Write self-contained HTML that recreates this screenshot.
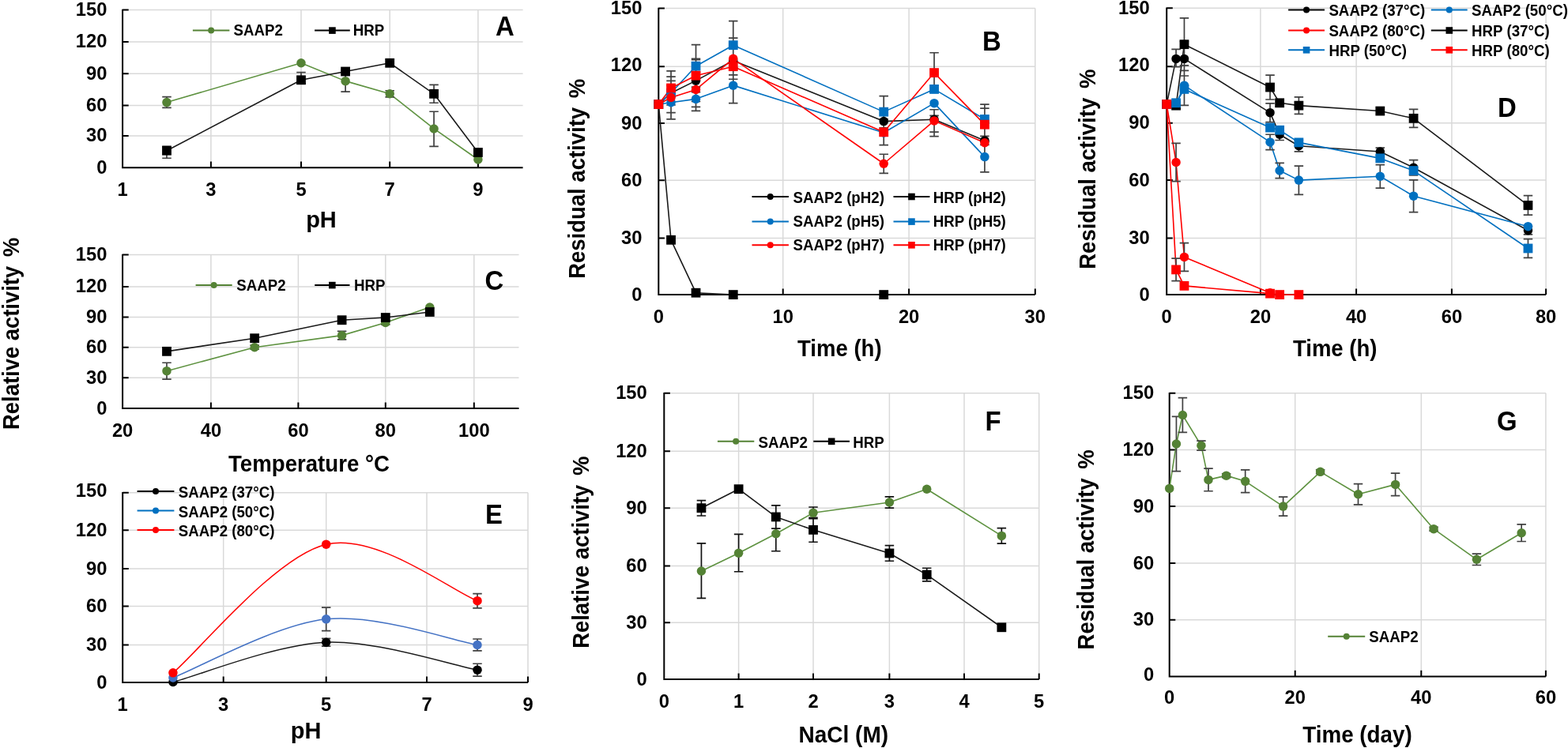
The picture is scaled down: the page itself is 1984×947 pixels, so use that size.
<!DOCTYPE html>
<html><head><meta charset="utf-8"><title>Figure</title>
<style>
html,body{margin:0;padding:0;background:#fff;overflow:hidden;}
svg{display:block;}
text{font-family:'Liberation Sans', Arial, sans-serif;font-weight:bold;fill:#000;}
</style></head>
<body>
<svg width="1984" height="947" viewBox="0 0 1984 947">
<rect width="1984" height="947" fill="#fff"/>
<path d="M155.1 171.9H661.6 M155.1 133.6H661.6 M155.1 93.2H661.6 M155.1 52.9H661.6 M155.1 12.5H661.6 M266.9 212.2V12.5 M381 212.2V12.5 M493.2 212.2V12.5 M604.9 212.2V12.5" fill="none" stroke="#D9D9D9" stroke-width="1.5"/>
<path d="M155.1 11.7V212.2H661.6 M155.1 212.2H162.7 M155.1 171.9H162.7 M155.1 133.6H162.7 M155.1 93.2H162.7 M155.1 52.9H162.7 M155.1 12.5H162.7 M155.1 212.2V204.6 M266.9 212.2V204.6 M381 212.2V204.6 M493.2 212.2V204.6 M604.9 212.2V204.6" fill="none" stroke="#000" stroke-width="2.0"/>
<text transform="translate(135.4 219.7) scale(0.97 1)" font-size="24.5" text-anchor="end">0</text>
<text transform="translate(135.4 179.4) scale(0.97 1)" font-size="24.5" text-anchor="end">30</text>
<text transform="translate(135.4 141.1) scale(0.97 1)" font-size="24.5" text-anchor="end">60</text>
<text transform="translate(135.4 100.7) scale(0.97 1)" font-size="24.5" text-anchor="end">90</text>
<text transform="translate(135.4 60.4) scale(0.97 1)" font-size="24.5" text-anchor="end">120</text>
<text transform="translate(135.4 20) scale(0.97 1)" font-size="24.5" text-anchor="end">150</text>
<text transform="translate(155.1 248) scale(0.97 1)" font-size="24.5" text-anchor="middle">1</text>
<text transform="translate(266.9 248) scale(0.97 1)" font-size="24.5" text-anchor="middle">3</text>
<text transform="translate(381 248) scale(0.97 1)" font-size="24.5" text-anchor="middle">5</text>
<text transform="translate(493.2 248) scale(0.97 1)" font-size="24.5" text-anchor="middle">7</text>
<text transform="translate(604.9 248) scale(0.97 1)" font-size="24.5" text-anchor="middle">9</text>
<path d="M211 129.56 L381 79.77 L437.1 102.63 L493.2 118.79 L549.05 162.96 L604.9 201.99" fill="none" stroke="#5E9240" stroke-width="1.6" stroke-linejoin="round"/>
<path d="M211 190.71 L381 101.28 L437.1 90.51 L493.2 79.77 L549.05 118.79 L604.9 192.99" fill="none" stroke="#1A1A1A" stroke-width="1.6" stroke-linejoin="round"/>
<path d="M211 122.56V136.41M205.25 122.56H216.75M205.25 136.41H216.75M437.1 89.17V116.09M431.35 89.17H442.85M431.35 116.09H442.85M493.2 114.75V122.83M487.45 114.75H498.95M487.45 122.83H498.95M549.05 141.26V185.33M543.3 141.26H554.8M543.3 185.33H554.8M211 185.33V200.24M205.25 185.33H216.75M205.25 200.24H216.75M381 91.59V105.32M375.25 91.59H386.75M375.25 105.32H386.75M549.05 107.34V130.23M543.3 107.34H554.8M543.3 130.23H554.8" fill="none" stroke="#404040" stroke-width="1.7"/>
<circle cx="211" cy="129.56" r="5.75" fill="#548235"/>
<circle cx="381" cy="79.77" r="5.75" fill="#548235"/>
<circle cx="437.1" cy="102.63" r="5.75" fill="#548235"/>
<circle cx="493.2" cy="118.79" r="5.75" fill="#548235"/>
<circle cx="549.05" cy="162.96" r="5.75" fill="#548235"/>
<circle cx="604.9" cy="201.99" r="5.75" fill="#548235"/>
<rect x="205.1" y="184.81" width="11.8" height="11.8" fill="#000000"/>
<rect x="375.1" y="95.38" width="11.8" height="11.8" fill="#000000"/>
<rect x="431.2" y="84.61" width="11.8" height="11.8" fill="#000000"/>
<rect x="487.3" y="73.87" width="11.8" height="11.8" fill="#000000"/>
<rect x="543.15" y="112.89" width="11.8" height="11.8" fill="#000000"/>
<rect x="599" y="187.09" width="11.8" height="11.8" fill="#000000"/>
<path d="M243.9 38.6H290.4" stroke="#548235" stroke-width="2.0"/>
<circle cx="267.15" cy="38.6" r="4" fill="#548235"/>
<text transform="translate(295.5 45.4) scale(0.935 1)" font-size="20" text-anchor="start">SAAP2</text>
<path d="M398.1 38.6H442.8" stroke="#000000" stroke-width="2.0"/>
<rect x="416.15" y="34.3" width="8.6" height="8.6" fill="#000000"/>
<text transform="translate(446.7 45.4) scale(0.935 1)" font-size="20" text-anchor="start">HRP</text>
<text transform="translate(638.8 44.8) scale(0.94 1)" font-size="35" text-anchor="middle">A</text>
<text x="406.5" y="288" font-size="29" text-anchor="middle">pH</text>
<path d="M155.1 478.3H656.5 M155.1 439.7H656.5 M155.1 401.4H656.5 M155.1 362.9H656.5 M155.1 322.5H656.5 M266.9 517V322.5 M377.4 517V322.5 M487.8 517V322.5 M599.8 517V322.5" fill="none" stroke="#D9D9D9" stroke-width="1.5"/>
<path d="M155.1 321.7V517H656.5 M155.1 517H162.7 M155.1 478.3H162.7 M155.1 439.7H162.7 M155.1 401.4H162.7 M155.1 362.9H162.7 M155.1 322.5H162.7 M155.1 517V509.4 M266.9 517V509.4 M377.4 517V509.4 M487.8 517V509.4 M599.8 517V509.4" fill="none" stroke="#000" stroke-width="2.0"/>
<text transform="translate(135.4 524.5) scale(0.97 1)" font-size="24.5" text-anchor="end">0</text>
<text transform="translate(135.4 485.8) scale(0.97 1)" font-size="24.5" text-anchor="end">30</text>
<text transform="translate(135.4 447.2) scale(0.97 1)" font-size="24.5" text-anchor="end">60</text>
<text transform="translate(135.4 408.9) scale(0.97 1)" font-size="24.5" text-anchor="end">90</text>
<text transform="translate(135.4 370.4) scale(0.97 1)" font-size="24.5" text-anchor="end">120</text>
<text transform="translate(135.4 330) scale(0.97 1)" font-size="24.5" text-anchor="end">150</text>
<text transform="translate(155.1 552.8) scale(0.97 1)" font-size="24.5" text-anchor="middle">20</text>
<text transform="translate(266.9 552.8) scale(0.97 1)" font-size="24.5" text-anchor="middle">40</text>
<text transform="translate(377.4 552.8) scale(0.97 1)" font-size="24.5" text-anchor="middle">60</text>
<text transform="translate(487.8 552.8) scale(0.97 1)" font-size="24.5" text-anchor="middle">80</text>
<text transform="translate(599.8 552.8) scale(0.97 1)" font-size="24.5" text-anchor="middle">100</text>
<path d="M211 469.68 L322.15 439.7 L432.6 424.64 L487.8 408.42 L543.8 388.95" fill="none" stroke="#5E9240" stroke-width="1.6" stroke-linejoin="round"/>
<path d="M211 444.85 L322.15 428.21 L432.6 405.23 L487.8 402.04 L543.8 394.98" fill="none" stroke="#1A1A1A" stroke-width="1.6" stroke-linejoin="round"/>
<path d="M211 459.26V480.11M205.25 459.26H216.75M205.25 480.11H216.75M322.15 437.15V442.27M316.4 437.15H327.9M316.4 442.27H327.9M432.6 419.4V429.87M426.85 419.4H438.35M426.85 429.87H438.35M487.8 405.87V410.97M482.05 405.87H493.55M482.05 410.97H493.55" fill="none" stroke="#404040" stroke-width="1.7"/>
<circle cx="211" cy="469.68" r="5.75" fill="#548235"/>
<circle cx="322.15" cy="439.7" r="5.75" fill="#548235"/>
<circle cx="432.6" cy="424.64" r="5.75" fill="#548235"/>
<circle cx="487.8" cy="408.42" r="5.75" fill="#548235"/>
<circle cx="543.8" cy="388.95" r="5.75" fill="#548235"/>
<rect x="205.1" y="438.95" width="11.8" height="11.8" fill="#000000"/>
<rect x="316.25" y="422.31" width="11.8" height="11.8" fill="#000000"/>
<rect x="426.7" y="399.33" width="11.8" height="11.8" fill="#000000"/>
<rect x="481.9" y="396.14" width="11.8" height="11.8" fill="#000000"/>
<rect x="537.9" y="389.08" width="11.8" height="11.8" fill="#000000"/>
<path d="M247.6 361.1H293.7" stroke="#548235" stroke-width="2.0"/>
<circle cx="270.65" cy="361.1" r="4" fill="#548235"/>
<text transform="translate(299.3 367.5) scale(0.935 1)" font-size="20" text-anchor="start">SAAP2</text>
<path d="M398.2 361.1H442.5" stroke="#000000" stroke-width="2.0"/>
<rect x="416.05" y="356.8" width="8.6" height="8.6" fill="#000000"/>
<text transform="translate(448 367.5) scale(0.935 1)" font-size="20" text-anchor="start">HRP</text>
<text transform="translate(625.4 366.8) scale(0.94 1)" font-size="35" text-anchor="middle">C</text>
<text transform="translate(391 596.8) scale(0.953 1)" font-size="29" text-anchor="middle">Temperature °C</text>
<text font-size="29" text-anchor="middle" transform="translate(24.3 422.4) rotate(-90) scale(0.945 1)">Relative activity <tspan dx="4.3">%</tspan></text>
<path d="M155.2 816.5H668 M155.2 767.5H668 M155.2 720H668 M155.2 671.3H668 M155.2 623.8H668 M282.7 864V623.8 M412.7 864V623.8 M540 864V623.8 M668 864V623.8" fill="none" stroke="#D9D9D9" stroke-width="1.5"/>
<path d="M155.2 623V864H668 M155.2 864H162.8 M155.2 816.5H162.8 M155.2 767.5H162.8 M155.2 720H162.8 M155.2 671.3H162.8 M155.2 623.8H162.8 M155.2 864V856.4 M282.7 864V856.4 M412.7 864V856.4 M540 864V856.4 M668 864V856.4" fill="none" stroke="#000" stroke-width="2.0"/>
<text transform="translate(135.4 871.5) scale(0.97 1)" font-size="24.5" text-anchor="end">0</text>
<text transform="translate(135.4 824) scale(0.97 1)" font-size="24.5" text-anchor="end">30</text>
<text transform="translate(135.4 775) scale(0.97 1)" font-size="24.5" text-anchor="end">60</text>
<text transform="translate(135.4 727.5) scale(0.97 1)" font-size="24.5" text-anchor="end">90</text>
<text transform="translate(135.4 678.8) scale(0.97 1)" font-size="24.5" text-anchor="end">120</text>
<text transform="translate(135.4 629.3) scale(0.97 1)" font-size="24.5" text-anchor="end">150</text>
<text transform="translate(155.2 899.5) scale(0.97 1)" font-size="24.5" text-anchor="middle">1</text>
<text transform="translate(282.7 899.5) scale(0.97 1)" font-size="24.5" text-anchor="middle">3</text>
<text transform="translate(412.7 899.5) scale(0.97 1)" font-size="24.5" text-anchor="middle">5</text>
<text transform="translate(540 899.5) scale(0.97 1)" font-size="24.5" text-anchor="middle">7</text>
<text transform="translate(668 899.5) scale(0.97 1)" font-size="24.5" text-anchor="middle">9</text>
<path d="M218.95 863.52 C251.24 855.14 348.52 815.79 412.7 813.23 C476.88 810.67 572.12 842.34 604 848.17" fill="none" stroke="#1A1A1A" stroke-width="1.5" stroke-linejoin="round"/>
<path d="M218.95 857.98 C251.24 845.62 348.52 790.75 412.7 783.83 C476.88 776.92 572.12 811.06 604 816.5" fill="none" stroke="#4472C4" stroke-width="1.5" stroke-linejoin="round"/>
<path d="M218.95 851.81 C251.24 824.7 348.52 704.34 412.7 689.16 C476.88 673.97 572.12 748.77 604 760.69" fill="none" stroke="#FF0000" stroke-width="1.5" stroke-linejoin="round"/>
<path d="M412.7 808.33V818.08M406.95 808.33H418.45M406.95 818.08H418.45M604 840.25V856.08M598.25 840.25H609.75M598.25 856.08H609.75M412.7 769.13V798.53M406.95 769.13H418.45M406.95 798.53H418.45M604 808.99V823.78M598.25 808.99H609.75M598.25 823.78H609.75M604 751.67V769.79M598.25 751.67H609.75M598.25 769.79H609.75" fill="none" stroke="#404040" stroke-width="1.7"/>
<circle cx="218.95" cy="863.52" r="5.75" fill="#000000"/>
<circle cx="412.7" cy="813.23" r="5.75" fill="#000000"/>
<circle cx="604" cy="848.17" r="5.75" fill="#000000"/>
<circle cx="218.95" cy="857.98" r="5.75" fill="#4472C4"/>
<circle cx="412.7" cy="783.83" r="5.75" fill="#4472C4"/>
<circle cx="604" cy="816.5" r="5.75" fill="#4472C4"/>
<circle cx="218.95" cy="851.81" r="5.75" fill="#FF0000"/>
<circle cx="412.7" cy="689.16" r="5.75" fill="#FF0000"/>
<circle cx="604" cy="760.69" r="5.75" fill="#FF0000"/>
<path d="M173.6 622.1H220.4" stroke="#000000" stroke-width="2.0"/>
<circle cx="197" cy="622.1" r="4" fill="#000000"/>
<text transform="translate(225.7 630.2) scale(0.935 1)" font-size="20" text-anchor="start">SAAP2 (37°C)</text>
<path d="M173.6 646.5H220.4" stroke="#0070C0" stroke-width="2.0"/>
<circle cx="197" cy="646.5" r="4" fill="#0070C0"/>
<text transform="translate(225.7 654.8) scale(0.935 1)" font-size="20" text-anchor="start">SAAP2 (50°C)</text>
<path d="M173.6 671H220.4" stroke="#FF0000" stroke-width="2.0"/>
<circle cx="197" cy="671" r="4" fill="#FF0000"/>
<text transform="translate(225.7 679.4) scale(0.935 1)" font-size="20" text-anchor="start">SAAP2 (80°C)</text>
<text transform="translate(624.9 663.2) scale(0.94 1)" font-size="35" text-anchor="middle">E</text>
<text x="387.2" y="934.5" font-size="29" text-anchor="middle">pH</text>
<path d="M833.3 301.4H1309.8 M833.3 228.2H1309.8 M833.3 156H1309.8 M833.3 84.2H1309.8 M833.3 10.5H1309.8 M990.7 373.1V10.5 M1150.1 373.1V10.5 M1309.8 373.1V10.5" fill="none" stroke="#D9D9D9" stroke-width="1.5"/>
<path d="M833.3 9.7V373.1H1309.8 M833.3 373.1H840.9 M833.3 301.4H840.9 M833.3 228.2H840.9 M833.3 156H840.9 M833.3 84.2H840.9 M833.3 10.5H840.9 M833.3 373.1V365.5 M990.7 373.1V365.5 M1150.1 373.1V365.5 M1309.8 373.1V365.5" fill="none" stroke="#000" stroke-width="2.0"/>
<text transform="translate(812.4 380.6) scale(0.97 1)" font-size="24.5" text-anchor="end">0</text>
<text transform="translate(812.4 308.9) scale(0.97 1)" font-size="24.5" text-anchor="end">30</text>
<text transform="translate(812.4 235.7) scale(0.97 1)" font-size="24.5" text-anchor="end">60</text>
<text transform="translate(812.4 163.5) scale(0.97 1)" font-size="24.5" text-anchor="end">90</text>
<text transform="translate(812.4 89.9) scale(0.97 1)" font-size="24.5" text-anchor="end">120</text>
<text transform="translate(812.4 18) scale(0.97 1)" font-size="24.5" text-anchor="end">150</text>
<text transform="translate(833.3 409.1) scale(0.97 1)" font-size="24.5" text-anchor="middle">0</text>
<text transform="translate(990.7 409.1) scale(0.97 1)" font-size="24.5" text-anchor="middle">10</text>
<text transform="translate(1150.1 409.1) scale(0.97 1)" font-size="24.5" text-anchor="middle">20</text>
<text transform="translate(1309.8 409.1) scale(0.97 1)" font-size="24.5" text-anchor="middle">30</text>
<path d="M833.3 132.07 L849.04 117.71 L880.52 102.15 L927.74 76.83 L1118.22 153.61 L1182.04 151.21 L1245.92 177.9" fill="none" stroke="#1A1A1A" stroke-width="1.6" stroke-linejoin="round"/>
<path d="M833.3 132.07 L849.04 303.79 L880.52 370.71 L927.74 373.1 L1118.22 373.1" fill="none" stroke="#1A1A1A" stroke-width="1.6" stroke-linejoin="round"/>
<path d="M833.3 132.07 L849.04 129.67 L880.52 125.37 L927.74 108.13 L1118.22 168.03 L1182.04 130.63 L1245.92 198.6" fill="none" stroke="#0070C0" stroke-width="1.6" stroke-linejoin="round"/>
<path d="M833.3 132.07 L849.04 117.71 L880.52 83.71 L927.74 57.18 L1118.22 141.64 L1182.04 112.92 L1245.92 150.97" fill="none" stroke="#0070C0" stroke-width="1.6" stroke-linejoin="round"/>
<path d="M833.3 132.07 L849.04 123.45 L880.52 113.4 L927.74 74.37 L1118.22 207.26 L1182.04 152.89 L1245.92 180.79" fill="none" stroke="#FF0000" stroke-width="1.6" stroke-linejoin="round"/>
<path d="M833.3 132.07 L849.04 111.48 L880.52 95.69 L927.74 84.2 L1118.22 167.31 L1182.04 92.1 L1245.92 157.68" fill="none" stroke="#FF0000" stroke-width="1.6" stroke-linejoin="round"/>
<path d="M849.04 102.39V133.02M843.29 102.39H854.79M843.29 133.02H854.79M880.52 75.6V128.48M874.77 75.6H886.27M874.77 128.48H886.27M927.74 58.41V94.97M921.99 58.41H933.49M921.99 94.97H933.49M1182.04 146.43V172.61M1176.29 146.43H1187.79M1176.29 172.61H1187.79M1245.92 172.37V183.44M1240.17 172.37H1251.67M1240.17 183.44H1251.67M849.04 108.37V150.97M843.29 108.37H854.79M843.29 150.97H854.79M880.52 110.29V140.44M874.77 110.29H886.27M874.77 140.44H886.27M927.74 85.64V130.63M921.99 85.64H933.49M921.99 130.63H933.49M1245.92 179.34V217.85M1240.17 179.34H1251.67M1240.17 217.85H1251.67M849.04 97.12V142.6M843.29 97.12H854.79M843.29 142.6H854.79M880.52 56.69V110.05M874.77 56.69H886.27M874.77 110.05H886.27M927.74 26.71V87.55M921.99 26.71H933.49M921.99 87.55H933.49M1118.22 121.54V161.78M1112.47 121.54H1123.97M1112.47 161.78H1123.97M1245.92 132.07V150.97M1240.17 132.07H1251.67M880.52 91.38V135.42M874.77 91.38H886.27M874.77 135.42H886.27M927.74 48.09V100.24M921.99 48.09H933.49M921.99 100.24H933.49M1118.22 195.23V219.3M1112.47 195.23H1123.97M1112.47 219.3H1123.97M1182.04 138.77V167.07M1176.29 138.77H1187.79M1176.29 167.07H1187.79M849.04 89.94V133.02M843.29 89.94H854.79M843.29 133.02H854.79M880.52 74.37V116.75M874.77 74.37H886.27M874.77 116.75H886.27M1118.22 150.97V183.68M1112.47 150.97H1123.97M1112.47 183.68H1123.97M1182.04 66.76V116.99M1176.29 66.76H1187.79M1176.29 116.99H1187.79M1245.92 137.09V178.38M1240.17 137.09H1251.67M1240.17 178.38H1251.67" fill="none" stroke="#404040" stroke-width="1.7"/>
<circle cx="833.3" cy="132.07" r="5.75" fill="#000000"/>
<circle cx="849.04" cy="117.71" r="5.75" fill="#000000"/>
<circle cx="880.52" cy="102.15" r="5.75" fill="#000000"/>
<circle cx="927.74" cy="76.83" r="5.75" fill="#000000"/>
<circle cx="1118.22" cy="153.61" r="5.75" fill="#000000"/>
<circle cx="1182.04" cy="151.21" r="5.75" fill="#000000"/>
<circle cx="1245.92" cy="177.9" r="5.75" fill="#000000"/>
<rect x="827.4" y="126.17" width="11.8" height="11.8" fill="#000000"/>
<rect x="843.14" y="297.89" width="11.8" height="11.8" fill="#000000"/>
<rect x="874.62" y="364.81" width="11.8" height="11.8" fill="#000000"/>
<rect x="921.84" y="367.2" width="11.8" height="11.8" fill="#000000"/>
<rect x="1112.32" y="367.2" width="11.8" height="11.8" fill="#000000"/>
<circle cx="833.3" cy="132.07" r="5.75" fill="#0070C0"/>
<circle cx="849.04" cy="129.67" r="5.75" fill="#0070C0"/>
<circle cx="880.52" cy="125.37" r="5.75" fill="#0070C0"/>
<circle cx="927.74" cy="108.13" r="5.75" fill="#0070C0"/>
<circle cx="1118.22" cy="168.03" r="5.75" fill="#0070C0"/>
<circle cx="1182.04" cy="130.63" r="5.75" fill="#0070C0"/>
<circle cx="1245.92" cy="198.6" r="5.75" fill="#0070C0"/>
<rect x="827.4" y="126.17" width="11.8" height="11.8" fill="#0070C0"/>
<rect x="843.14" y="111.81" width="11.8" height="11.8" fill="#0070C0"/>
<rect x="874.62" y="77.81" width="11.8" height="11.8" fill="#0070C0"/>
<rect x="921.84" y="51.28" width="11.8" height="11.8" fill="#0070C0"/>
<rect x="1112.32" y="135.74" width="11.8" height="11.8" fill="#0070C0"/>
<rect x="1176.14" y="107.02" width="11.8" height="11.8" fill="#0070C0"/>
<rect x="1240.02" y="145.07" width="11.8" height="11.8" fill="#0070C0"/>
<circle cx="833.3" cy="132.07" r="5.75" fill="#FF0000"/>
<circle cx="849.04" cy="123.45" r="5.75" fill="#FF0000"/>
<circle cx="880.52" cy="113.4" r="5.75" fill="#FF0000"/>
<circle cx="927.74" cy="74.37" r="5.75" fill="#FF0000"/>
<circle cx="1118.22" cy="207.26" r="5.75" fill="#FF0000"/>
<circle cx="1182.04" cy="152.89" r="5.75" fill="#FF0000"/>
<circle cx="1245.92" cy="180.79" r="5.75" fill="#FF0000"/>
<rect x="827.4" y="126.17" width="11.8" height="11.8" fill="#FF0000"/>
<rect x="843.14" y="105.58" width="11.8" height="11.8" fill="#FF0000"/>
<rect x="874.62" y="89.79" width="11.8" height="11.8" fill="#FF0000"/>
<rect x="921.84" y="78.3" width="11.8" height="11.8" fill="#FF0000"/>
<rect x="1112.32" y="161.41" width="11.8" height="11.8" fill="#FF0000"/>
<rect x="1176.14" y="86.2" width="11.8" height="11.8" fill="#FF0000"/>
<rect x="1240.02" y="151.78" width="11.8" height="11.8" fill="#FF0000"/>
<path d="M951.5 249H997.9" stroke="#000000" stroke-width="2.0"/>
<circle cx="974.7" cy="249" r="4" fill="#000000"/>
<text transform="translate(1003.6 257.4) scale(0.935 1)" font-size="20" text-anchor="start">SAAP2 (pH2)</text>
<path d="M1130.5 249H1176.4" stroke="#000000" stroke-width="2.0"/>
<rect x="1149.15" y="244.7" width="8.6" height="8.6" fill="#000000"/>
<text transform="translate(1180.7 257.4) scale(0.935 1)" font-size="20" text-anchor="start">HRP (pH2)</text>
<path d="M951.5 280.6H997.9" stroke="#0070C0" stroke-width="2.0"/>
<circle cx="974.7" cy="280.6" r="4" fill="#0070C0"/>
<text transform="translate(1003.6 287) scale(0.935 1)" font-size="20" text-anchor="start">SAAP2 (pH5)</text>
<path d="M1130.5 280.6H1176.4" stroke="#0070C0" stroke-width="2.0"/>
<rect x="1149.15" y="276.3" width="8.6" height="8.6" fill="#0070C0"/>
<text transform="translate(1180.7 287) scale(0.935 1)" font-size="20" text-anchor="start">HRP (pH5)</text>
<path d="M951.5 310.3H997.9" stroke="#FF0000" stroke-width="2.0"/>
<circle cx="974.7" cy="310.3" r="4" fill="#FF0000"/>
<text transform="translate(1003.6 316.7) scale(0.935 1)" font-size="20" text-anchor="start">SAAP2 (pH7)</text>
<path d="M1130.5 310.3H1176.4" stroke="#FF0000" stroke-width="2.0"/>
<rect x="1149.15" y="306" width="8.6" height="8.6" fill="#FF0000"/>
<text transform="translate(1180.7 316.7) scale(0.935 1)" font-size="20" text-anchor="start">HRP (pH7)</text>
<text transform="translate(1255 63.9) scale(0.94 1)" font-size="35" text-anchor="middle">B</text>
<text transform="translate(1062.3 450.8) scale(0.949 1)" font-size="29" text-anchor="middle">Time (h)</text>
<text font-size="29" text-anchor="middle" transform="translate(739.5 226.3) rotate(-90) scale(0.948 1)">Residual activity <tspan dx="4.3">%</tspan></text>
<path d="M1476.2 301.6H1956.1 M1476.2 228.1H1956.1 M1476.2 155.8H1956.1 M1476.2 84.3H1956.1 M1476.2 10.3H1956.1 M1594.9 373.1V10.3 M1716.1 373.1V10.3 M1836.9 373.1V10.3 M1956.1 373.1V10.3" fill="none" stroke="#D9D9D9" stroke-width="1.5"/>
<path d="M1476.2 9.5V373.1H1956.1 M1476.2 373.1H1483.8 M1476.2 301.6H1483.8 M1476.2 228.1H1483.8 M1476.2 155.8H1483.8 M1476.2 84.3H1483.8 M1476.2 10.3H1483.8 M1476.2 373.1V365.5 M1594.9 373.1V365.5 M1716.1 373.1V365.5 M1836.9 373.1V365.5 M1956.1 373.1V365.5" fill="none" stroke="#000" stroke-width="2.0"/>
<text transform="translate(1454.7 380.6) scale(0.97 1)" font-size="24.5" text-anchor="end">0</text>
<text transform="translate(1454.7 309.1) scale(0.97 1)" font-size="24.5" text-anchor="end">30</text>
<text transform="translate(1454.7 235.6) scale(0.97 1)" font-size="24.5" text-anchor="end">60</text>
<text transform="translate(1454.7 163.3) scale(0.97 1)" font-size="24.5" text-anchor="end">90</text>
<text transform="translate(1454.7 90) scale(0.97 1)" font-size="24.5" text-anchor="end">120</text>
<text transform="translate(1454.7 17.8) scale(0.97 1)" font-size="24.5" text-anchor="end">150</text>
<text transform="translate(1476.2 409.1) scale(0.97 1)" font-size="24.5" text-anchor="middle">0</text>
<text transform="translate(1594.9 409.1) scale(0.97 1)" font-size="24.5" text-anchor="middle">20</text>
<text transform="translate(1716.1 409.1) scale(0.97 1)" font-size="24.5" text-anchor="middle">40</text>
<text transform="translate(1836.9 409.1) scale(0.97 1)" font-size="24.5" text-anchor="middle">60</text>
<text transform="translate(1956.1 409.1) scale(0.97 1)" font-size="24.5" text-anchor="middle">80</text>
<path d="M1476.2 131.97 L1488.07 74.43 L1498.46 74.43 L1607.02 142.69 L1619.14 170.26 L1643.38 184.72 L1746.3 191.95 L1788.58 212.19 L1933.45 291.8" fill="none" stroke="#1A1A1A" stroke-width="1.6" stroke-linejoin="round"/>
<path d="M1476.2 131.97 L1488.07 131.97 L1498.46 108.13 L1607.02 179.9 L1619.14 216.05 L1643.38 228.1 L1746.3 223.28 L1788.58 248.19 L1933.45 286.66" fill="none" stroke="#0070C0" stroke-width="1.6" stroke-linejoin="round"/>
<path d="M1476.2 131.97 L1488.07 205.45 L1498.46 325.43 L1607.02 370.72" fill="none" stroke="#FF0000" stroke-width="1.6" stroke-linejoin="round"/>
<path d="M1476.2 131.97 L1488.07 133.64 L1498.46 56.18 L1607.02 110.52 L1619.14 130.3 L1643.38 133.64 L1746.3 140.55 L1788.58 149.84 L1933.45 259.95" fill="none" stroke="#1A1A1A" stroke-width="1.6" stroke-linejoin="round"/>
<path d="M1476.2 131.97 L1488.07 130.3 L1498.46 112.9 L1607.02 161.58 L1619.14 164.72 L1643.38 180.38 L1746.3 200.38 L1788.58 216.05 L1933.45 314.47" fill="none" stroke="#0070C0" stroke-width="1.6" stroke-linejoin="round"/>
<path d="M1476.2 131.97 L1488.07 341.4 L1498.46 361.9 L1607.02 371.67 L1619.14 373.1 L1643.38 373.1" fill="none" stroke="#FF0000" stroke-width="1.6" stroke-linejoin="round"/>
<path d="M1488.07 62.35V84.54M1482.32 62.35H1493.82M1482.32 84.54H1493.82M1498.46 52.48V95.98M1492.71 52.48H1504.21M1492.71 95.98H1504.21M1607.02 130.78V154.61M1601.27 130.78H1612.77M1601.27 154.61H1612.77M1619.14 163.03V177.49M1613.39 163.03H1624.89M1613.39 177.49H1624.89M1643.38 177.49V191.95M1637.63 177.49H1649.13M1637.63 191.95H1649.13M1746.3 187.13V196.77M1740.55 187.13H1752.05M1740.55 196.77H1752.05M1788.58 202.55V221.83M1782.83 202.55H1794.33M1782.83 221.83H1794.33M1933.45 286.66V296.95M1927.7 286.66H1939.2M1927.7 296.95H1939.2M1498.46 82.82V133.4M1492.71 82.82H1504.21M1492.71 133.4H1504.21M1607.02 170.26V189.54M1601.27 170.26H1612.77M1601.27 189.54H1612.77M1619.14 206.41V225.69M1613.39 206.41H1624.89M1613.39 225.69H1624.89M1643.38 210.03V246.47M1637.63 210.03H1649.13M1637.63 246.47H1649.13M1746.3 208.58V238.15M1740.55 208.58H1752.05M1740.55 238.15H1752.05M1788.58 227.86V268.53M1782.83 227.86H1794.33M1782.83 268.53H1794.33M1488.07 181.35V229.57M1482.32 181.35H1493.82M1482.32 229.57H1493.82M1498.46 307.56V343.31M1492.71 307.56H1504.21M1492.71 343.31H1504.21M1498.46 22.88V89.3M1492.71 22.88H1504.21M1492.71 89.3H1504.21M1607.02 95.03V126.01M1601.27 95.03H1612.77M1601.27 126.01H1612.77M1643.38 122.91V144.36M1637.63 122.91H1649.13M1637.63 144.36H1649.13M1788.58 138.4V161.34M1782.83 138.4H1794.33M1782.83 161.34H1794.33M1933.45 247.7V272.2M1927.7 247.7H1939.2M1927.7 272.2H1939.2M1933.45 302.55V326.39M1927.7 302.55H1939.2M1927.7 326.39H1939.2M1488.07 327.1V355.7M1482.32 327.1H1493.82M1482.32 355.7H1493.82" fill="none" stroke="#404040" stroke-width="1.7"/>
<circle cx="1476.2" cy="131.97" r="5.75" fill="#000000"/>
<circle cx="1488.07" cy="74.43" r="5.75" fill="#000000"/>
<circle cx="1498.46" cy="74.43" r="5.75" fill="#000000"/>
<circle cx="1607.02" cy="142.69" r="5.75" fill="#000000"/>
<circle cx="1619.14" cy="170.26" r="5.75" fill="#000000"/>
<circle cx="1643.38" cy="184.72" r="5.75" fill="#000000"/>
<circle cx="1746.3" cy="191.95" r="5.75" fill="#000000"/>
<circle cx="1788.58" cy="212.19" r="5.75" fill="#000000"/>
<circle cx="1933.45" cy="291.8" r="5.75" fill="#000000"/>
<circle cx="1476.2" cy="131.97" r="5.75" fill="#0070C0"/>
<circle cx="1488.07" cy="131.97" r="5.75" fill="#0070C0"/>
<circle cx="1498.46" cy="108.13" r="5.75" fill="#0070C0"/>
<circle cx="1607.02" cy="179.9" r="5.75" fill="#0070C0"/>
<circle cx="1619.14" cy="216.05" r="5.75" fill="#0070C0"/>
<circle cx="1643.38" cy="228.1" r="5.75" fill="#0070C0"/>
<circle cx="1746.3" cy="223.28" r="5.75" fill="#0070C0"/>
<circle cx="1788.58" cy="248.19" r="5.75" fill="#0070C0"/>
<circle cx="1933.45" cy="286.66" r="5.75" fill="#0070C0"/>
<circle cx="1476.2" cy="131.97" r="5.75" fill="#FF0000"/>
<circle cx="1488.07" cy="205.45" r="5.75" fill="#FF0000"/>
<circle cx="1498.46" cy="325.43" r="5.75" fill="#FF0000"/>
<circle cx="1607.02" cy="370.72" r="5.75" fill="#FF0000"/>
<rect x="1470.3" y="126.07" width="11.8" height="11.8" fill="#000000"/>
<rect x="1482.17" y="127.74" width="11.8" height="11.8" fill="#000000"/>
<rect x="1492.56" y="50.28" width="11.8" height="11.8" fill="#000000"/>
<rect x="1601.12" y="104.62" width="11.8" height="11.8" fill="#000000"/>
<rect x="1613.24" y="124.4" width="11.8" height="11.8" fill="#000000"/>
<rect x="1637.48" y="127.74" width="11.8" height="11.8" fill="#000000"/>
<rect x="1740.4" y="134.65" width="11.8" height="11.8" fill="#000000"/>
<rect x="1782.68" y="143.94" width="11.8" height="11.8" fill="#000000"/>
<rect x="1927.55" y="254.05" width="11.8" height="11.8" fill="#000000"/>
<rect x="1470.3" y="126.07" width="11.8" height="11.8" fill="#0070C0"/>
<rect x="1482.17" y="124.4" width="11.8" height="11.8" fill="#0070C0"/>
<rect x="1492.56" y="107" width="11.8" height="11.8" fill="#0070C0"/>
<rect x="1601.12" y="155.68" width="11.8" height="11.8" fill="#0070C0"/>
<rect x="1613.24" y="158.82" width="11.8" height="11.8" fill="#0070C0"/>
<rect x="1637.48" y="174.48" width="11.8" height="11.8" fill="#0070C0"/>
<rect x="1740.4" y="194.48" width="11.8" height="11.8" fill="#0070C0"/>
<rect x="1782.68" y="210.15" width="11.8" height="11.8" fill="#0070C0"/>
<rect x="1927.55" y="308.57" width="11.8" height="11.8" fill="#0070C0"/>
<rect x="1470.3" y="126.07" width="11.8" height="11.8" fill="#FF0000"/>
<rect x="1482.17" y="335.5" width="11.8" height="11.8" fill="#FF0000"/>
<rect x="1492.56" y="356" width="11.8" height="11.8" fill="#FF0000"/>
<rect x="1601.12" y="365.77" width="11.8" height="11.8" fill="#FF0000"/>
<rect x="1613.24" y="367.2" width="11.8" height="11.8" fill="#FF0000"/>
<rect x="1637.48" y="367.2" width="11.8" height="11.8" fill="#FF0000"/>
<path d="M1630.1 12.5H1676" stroke="#000000" stroke-width="2.0"/>
<circle cx="1653.05" cy="12.5" r="4" fill="#000000"/>
<text transform="translate(1681.4 19.8) scale(0.935 1)" font-size="20" text-anchor="start">SAAP2 (37°C)</text>
<path d="M1810.8 12.5H1856.7" stroke="#0070C0" stroke-width="2.0"/>
<circle cx="1833.75" cy="12.5" r="4" fill="#0070C0"/>
<text transform="translate(1862.1 19.8) scale(0.935 1)" font-size="20" text-anchor="start">SAAP2 (50°C)</text>
<path d="M1630.1 38.5H1676" stroke="#FF0000" stroke-width="2.0"/>
<circle cx="1653.05" cy="38.5" r="4" fill="#FF0000"/>
<text transform="translate(1681.4 45.8) scale(0.935 1)" font-size="20" text-anchor="start">SAAP2 (80°C)</text>
<path d="M1810.8 38.5H1856.7" stroke="#000000" stroke-width="2.0"/>
<rect x="1829.45" y="34.2" width="8.6" height="8.6" fill="#000000"/>
<text transform="translate(1862.1 45.8) scale(0.935 1)" font-size="20" text-anchor="start">HRP (37°C)</text>
<path d="M1630.1 63.3H1676" stroke="#0070C0" stroke-width="2.0"/>
<rect x="1648.75" y="59" width="8.6" height="8.6" fill="#0070C0"/>
<text transform="translate(1681.4 70.6) scale(0.935 1)" font-size="20" text-anchor="start">HRP (50°C)</text>
<path d="M1810.8 63.3H1856.7" stroke="#FF0000" stroke-width="2.0"/>
<rect x="1829.45" y="59" width="8.6" height="8.6" fill="#FF0000"/>
<text transform="translate(1862.1 70.6) scale(0.935 1)" font-size="20" text-anchor="start">HRP (80°C)</text>
<text transform="translate(1906.8 147.9) scale(0.94 1)" font-size="35" text-anchor="middle">D</text>
<text transform="translate(1689.2 451) scale(0.949 1)" font-size="29" text-anchor="middle">Time (h)</text>
<text font-size="29" text-anchor="middle" transform="translate(1385.9 214.2) rotate(-90) scale(0.948 1)">Residual activity <tspan dx="4.3">%</tspan></text>
<path d="M840.3 788.3H1314.7 M840.3 716.6H1314.7 M840.3 643.2H1314.7 M840.3 571.2H1314.7 M840.3 497.8H1314.7 M934.6 860V497.8 M1029 860V497.8 M1125.4 860V497.8 M1220 860V497.8 M1314.7 860V497.8" fill="none" stroke="#D9D9D9" stroke-width="1.5"/>
<path d="M840.3 497V860H1314.7 M840.3 860H847.9 M840.3 788.3H847.9 M840.3 716.6H847.9 M840.3 643.2H847.9 M840.3 571.2H847.9 M840.3 497.8H847.9 M840.3 860V852.4 M934.6 860V852.4 M1029 860V852.4 M1125.4 860V852.4 M1220 860V852.4 M1314.7 860V852.4" fill="none" stroke="#000" stroke-width="2.0"/>
<text transform="translate(818.8 867.5) scale(0.97 1)" font-size="24.5" text-anchor="end">0</text>
<text transform="translate(818.8 795.8) scale(0.97 1)" font-size="24.5" text-anchor="end">30</text>
<text transform="translate(818.8 724.1) scale(0.97 1)" font-size="24.5" text-anchor="end">60</text>
<text transform="translate(818.8 650.7) scale(0.97 1)" font-size="24.5" text-anchor="end">90</text>
<text transform="translate(818.8 578.7) scale(0.97 1)" font-size="24.5" text-anchor="end">120</text>
<text transform="translate(818.8 505.3) scale(0.97 1)" font-size="24.5" text-anchor="end">150</text>
<text transform="translate(840.3 896.2) scale(0.97 1)" font-size="24.5" text-anchor="middle">0</text>
<text transform="translate(934.6 896.2) scale(0.97 1)" font-size="24.5" text-anchor="middle">1</text>
<text transform="translate(1029 896.2) scale(0.97 1)" font-size="24.5" text-anchor="middle">2</text>
<text transform="translate(1125.4 896.2) scale(0.97 1)" font-size="24.5" text-anchor="middle">3</text>
<text transform="translate(1220 896.2) scale(0.97 1)" font-size="24.5" text-anchor="middle">4</text>
<text transform="translate(1314.7 896.2) scale(0.97 1)" font-size="24.5" text-anchor="middle">5</text>
<path d="M887.45 723.05 L934.6 700.21 L981.8 675.74 L1029 649.32 L1125.4 636 L1172.7 619.2 L1267.35 678.43" fill="none" stroke="#5E9240" stroke-width="1.6" stroke-linejoin="round"/>
<path d="M887.45 643.2 L934.6 619.2 L981.8 654.45 L1029 670.85 L1125.4 700.45 L1172.7 727.59 L1267.35 794.27" fill="none" stroke="#1A1A1A" stroke-width="1.6" stroke-linejoin="round"/>
<path d="M887.45 687.97V757.47M881.7 687.97H893.2M881.7 757.47H893.2M934.6 676.47V723.77M928.85 676.47H940.35M928.85 723.77H940.35M981.8 653.72V697.76M976.05 653.72H987.55M976.05 697.76H987.55M1029 642V656.66M1023.25 642H1034.75M1023.25 656.66H1034.75M1125.4 628.8V643.2M1119.65 628.8H1131.15M1119.65 643.2H1131.15M1267.35 668.65V688.22M1261.6 668.65H1273.1M1261.6 688.22H1273.1M887.45 633.6V652.99M881.7 633.6H893.2M881.7 652.99H893.2M981.8 639.84V669.13M976.05 639.84H987.55M976.05 669.13H987.55M1029 655.43V686.26M1023.25 655.43H1034.75M1023.25 686.26H1034.75M1125.4 690.67V710.24M1119.65 690.67H1131.15M1119.65 710.24H1131.15M1172.7 719.23V735.96M1166.95 719.23H1178.45M1166.95 735.96H1178.45" fill="none" stroke="#111111" stroke-width="1.7"/>
<circle cx="887.45" cy="723.05" r="5.75" fill="#548235"/>
<circle cx="934.6" cy="700.21" r="5.75" fill="#548235"/>
<circle cx="981.8" cy="675.74" r="5.75" fill="#548235"/>
<circle cx="1029" cy="649.32" r="5.75" fill="#548235"/>
<circle cx="1125.4" cy="636" r="5.75" fill="#548235"/>
<circle cx="1172.7" cy="619.2" r="5.75" fill="#548235"/>
<circle cx="1267.35" cy="678.43" r="5.75" fill="#548235"/>
<rect x="881.55" y="637.3" width="11.8" height="11.8" fill="#000000"/>
<rect x="928.7" y="613.3" width="11.8" height="11.8" fill="#000000"/>
<rect x="975.9" y="648.55" width="11.8" height="11.8" fill="#000000"/>
<rect x="1023.1" y="664.95" width="11.8" height="11.8" fill="#000000"/>
<rect x="1119.5" y="694.55" width="11.8" height="11.8" fill="#000000"/>
<rect x="1166.8" y="721.69" width="11.8" height="11.8" fill="#000000"/>
<rect x="1261.45" y="788.38" width="11.8" height="11.8" fill="#000000"/>
<path d="M907.9 558.8H954.3" stroke="#548235" stroke-width="2.0"/>
<circle cx="931.1" cy="558.8" r="4" fill="#548235"/>
<text transform="translate(959.5 567.4) scale(0.935 1)" font-size="20" text-anchor="start">SAAP2</text>
<path d="M1029.3 558.8H1075" stroke="#000000" stroke-width="2.0"/>
<rect x="1047.85" y="554.5" width="8.6" height="8.6" fill="#000000"/>
<text transform="translate(1079.3 567.4) scale(0.935 1)" font-size="20" text-anchor="start">HRP</text>
<text transform="translate(1256.5 545.4) scale(0.94 1)" font-size="35" text-anchor="middle">F</text>
<text transform="translate(1067.3 939.6) scale(0.966 1)" font-size="29" text-anchor="middle">NaCl (M)</text>
<text font-size="29" text-anchor="middle" transform="translate(744.6 699.3) rotate(-90) scale(0.945 1)">Relative activity <tspan dx="4.3">%</tspan></text>
<path d="M1479.7 784.8H1955.9 M1479.7 713.1H1955.9 M1479.7 641.1H1955.9 M1479.7 569.4H1955.9 M1479.7 497.8H1955.9 M1638.7 856.4V497.8 M1798.3 856.4V497.8 M1955.9 856.4V497.8" fill="none" stroke="#D9D9D9" stroke-width="1.5"/>
<path d="M1479.7 497V856.4H1955.9 M1479.7 856.4H1487.3 M1479.7 784.8H1487.3 M1479.7 713.1H1487.3 M1479.7 641.1H1487.3 M1479.7 569.4H1487.3 M1479.7 497.8H1487.3 M1479.7 856.4V848.8 M1638.7 856.4V848.8 M1798.3 856.4V848.8 M1955.9 856.4V848.8" fill="none" stroke="#000" stroke-width="2.0"/>
<text transform="translate(1460.2 861.9) scale(0.97 1)" font-size="24.5" text-anchor="end">0</text>
<text transform="translate(1460.2 792.3) scale(0.97 1)" font-size="24.5" text-anchor="end">30</text>
<text transform="translate(1460.2 720.6) scale(0.97 1)" font-size="24.5" text-anchor="end">60</text>
<text transform="translate(1460.2 648.6) scale(0.97 1)" font-size="24.5" text-anchor="end">90</text>
<text transform="translate(1460.2 576.9) scale(0.97 1)" font-size="24.5" text-anchor="end">120</text>
<text transform="translate(1460.2 505.3) scale(0.97 1)" font-size="24.5" text-anchor="end">150</text>
<text transform="translate(1479.7 891) scale(0.97 1)" font-size="24.5" text-anchor="middle">0</text>
<text transform="translate(1638.7 891) scale(0.97 1)" font-size="24.5" text-anchor="middle">20</text>
<text transform="translate(1798.3 891) scale(0.97 1)" font-size="24.5" text-anchor="middle">40</text>
<text transform="translate(1955.9 891) scale(0.97 1)" font-size="24.5" text-anchor="middle">60</text>
<path d="M1479.7 618.39 L1488.44 562 L1496.39 525.49 L1519.93 564.15 L1528.99 607.4 L1551.65 602.14 L1575.66 609.31 L1623.6 641.1 L1670.62 597.36 L1718.5 625.8 L1765.58 613.38 L1814.06 669.66 L1868.43 708.3 L1925.17 674.7" fill="none" stroke="#5E9240" stroke-width="1.6" stroke-linejoin="round"/>
<path d="M1488.44 527.39V596.65M1482.69 527.39H1494.19M1482.69 596.65H1494.19M1496.39 503.53V547.44M1490.64 503.53H1502.14M1490.64 547.44H1502.14M1519.93 558.18V570.12M1514.18 558.18H1525.68M1514.18 570.12H1525.68M1528.99 593.06V621.74M1523.24 593.06H1534.74M1523.24 621.74H1534.74M1551.65 599.75V604.53M1545.9 599.75H1557.4M1545.9 604.53H1557.4M1575.66 594.97V623.65M1569.91 594.97H1581.41M1569.91 623.65H1581.41M1623.6 629.15V653.1M1617.85 629.15H1629.35M1617.85 653.1H1629.35M1670.62 594.97V599.75M1664.87 594.97H1676.37M1664.87 599.75H1676.37M1718.5 612.66V638.95M1712.75 612.66H1724.25M1712.75 638.95H1724.25M1765.58 599.04V627.72M1759.83 599.04H1771.33M1759.83 627.72H1771.33M1814.06 667.26V672.06M1808.31 667.26H1819.81M1808.31 672.06H1819.81M1868.43 701.1V715.49M1862.68 701.1H1874.18M1862.68 715.49H1874.18M1925.17 663.9V685.5M1919.42 663.9H1930.92M1919.42 685.5H1930.92" fill="none" stroke="#404040" stroke-width="1.7"/>
<circle cx="1479.7" cy="618.39" r="5.75" fill="#548235"/>
<circle cx="1488.44" cy="562" r="5.75" fill="#548235"/>
<circle cx="1496.39" cy="525.49" r="5.75" fill="#548235"/>
<circle cx="1519.93" cy="564.15" r="5.75" fill="#548235"/>
<circle cx="1528.99" cy="607.4" r="5.75" fill="#548235"/>
<circle cx="1551.65" cy="602.14" r="5.75" fill="#548235"/>
<circle cx="1575.66" cy="609.31" r="5.75" fill="#548235"/>
<circle cx="1623.6" cy="641.1" r="5.75" fill="#548235"/>
<circle cx="1670.62" cy="597.36" r="5.75" fill="#548235"/>
<circle cx="1718.5" cy="625.8" r="5.75" fill="#548235"/>
<circle cx="1765.58" cy="613.38" r="5.75" fill="#548235"/>
<circle cx="1814.06" cy="669.66" r="5.75" fill="#548235"/>
<circle cx="1868.43" cy="708.3" r="5.75" fill="#548235"/>
<circle cx="1925.17" cy="674.7" r="5.75" fill="#548235"/>
<path d="M1680.2 805.8H1727.2" stroke="#548235" stroke-width="2.0"/>
<circle cx="1703.7" cy="805.8" r="4" fill="#548235"/>
<text transform="translate(1732.2 812.5) scale(0.935 1)" font-size="20" text-anchor="start">SAAP2</text>
<text transform="translate(1906.7 545.4) scale(0.94 1)" font-size="35" text-anchor="middle">G</text>
<text transform="translate(1717.5 939.7) scale(0.959 1)" font-size="29" text-anchor="middle">Time (day)</text>
<text font-size="29" text-anchor="middle" transform="translate(1384 695.9) rotate(-90) scale(0.948 1)">Residual activity <tspan dx="4.3">%</tspan></text>
</svg>
</body></html>
